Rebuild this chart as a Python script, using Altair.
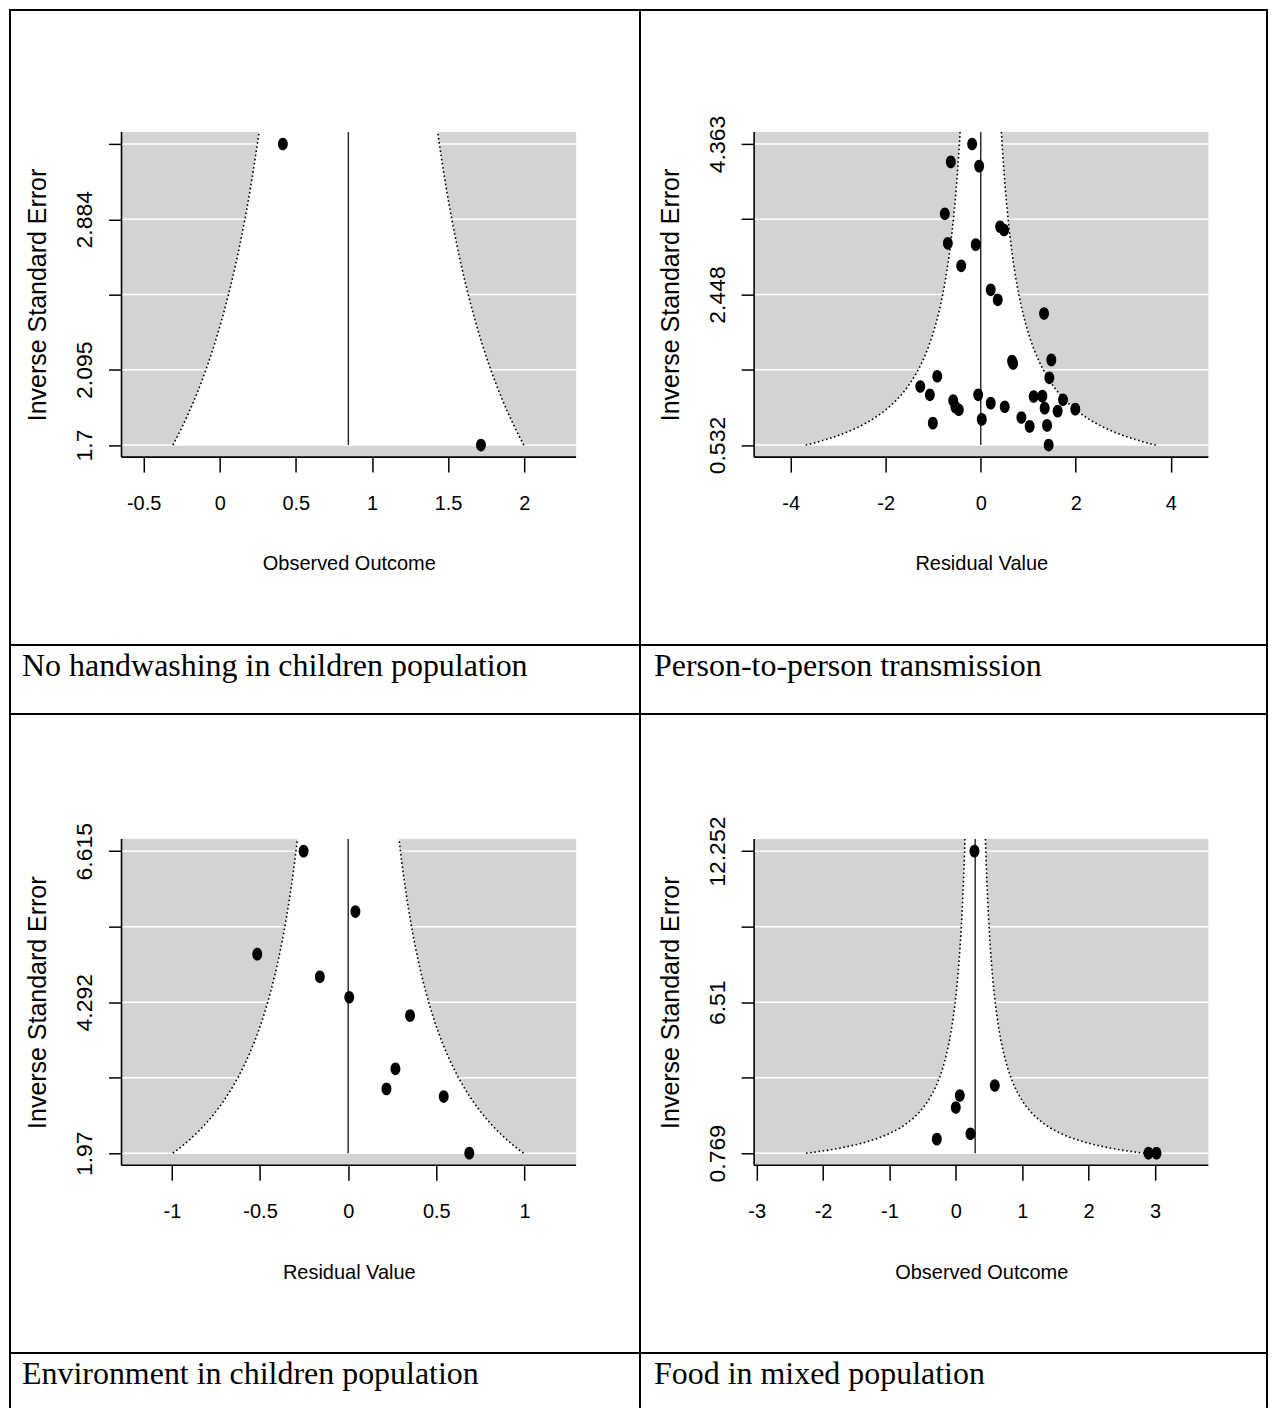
import altair as alt
import numpy as np
import pandas as pd

# ---------------- data ----------------
CAPTIONS = ["No handwashing in children population",
            "Person-to-person transmission",
            "Environment in children population",
            "Food in mixed population"]
X_TITLES = ["Observed Outcome", "Residual Value", "Residual Value", "Observed Outcome"]
Y_TITLE = "Inverse Standard Error"

P1_X = [0.415, 1.716]
P1_Y = [3.279, 1.700]

P2_X = [-0.181, -0.630, -0.034, -0.756, 0.407, 0.491, -0.693, -0.105, -0.412, 0.210,
        0.357, 1.332, 0.659, 0.680, 1.485, -0.916, 1.443, -1.273, -1.071, -0.055,
        -0.580, -0.532, -0.462, 0.210, 0.504, 1.113, 1.296, 1.731, 1.345, 1.618,
        1.989, -1.008, 0.021, 0.855, 1.029, 1.395, 1.429]
P2_Y = [4.363, 4.135, 4.080, 3.475, 3.310, 3.268, 3.099, 3.082, 2.812, 2.507,
        2.380, 2.206, 1.600, 1.570, 1.615, 1.407, 1.387, 1.277, 1.171, 1.171,
        1.099, 1.014, 0.981, 1.065, 1.019, 1.150, 1.154, 1.108, 1.001, 0.963,
        0.989, 0.811, 0.858, 0.883, 0.769, 0.782, 0.532]

P3_X = [-0.253, 0.041, -0.516, -0.161, 0.006, 0.351, 0.268, 0.217, 0.542, 0.687]
P3_Y = [6.615, 5.686, 5.031, 4.682, 4.369, 4.087, 3.267, 2.959, 2.841, 1.970]

P4_X = [0.281, 0.587, 0.060, 0.000, 0.221, -0.286, 2.902, 3.023]
P4_Y = [12.252, 3.343, 2.963, 2.507, 1.507, 1.301, 0.769, 0.769]

POINTS_X = [P1_X, P2_X, P3_X, P4_X]
POINTS_Y = [P1_Y, P2_Y, P3_Y, P4_Y]

CENTERS = [0.845, 0.0, 0.0, 0.292]

Y_TICKS = [[1.7, 2.095, 2.4895, 2.884, 3.279],
           [0.532, 1.490, 2.448, 3.405, 4.363],
           [1.97, 3.131, 4.292, 5.454, 6.615],
           [0.769, 3.640, 6.51, 9.381, 12.252]]
Y_LABELS = [["1.7", "2.095", "", "2.884", ""],
            ["0.532", "", "2.448", "", "4.363"],
            ["1.97", "", "4.292", "", "6.615"],
            ["0.769", "", "6.51", "", "12.252"]]
X_TICKS = [[-0.5, 0, 0.5, 1, 1.5, 2],
           [-4, -2, 0, 2, 4],
           [-1, -0.5, 0, 0.5, 1],
           [-3, -2, -1, 0, 1, 2, 3]]
X_LABELS = [["-0.5", "0", "0.5", "1", "1.5", "2"],
            ["-4", "-2", "0", "2", "4"],
            ["-1", "-0.5", "0", "0.5", "1"],
            ["-3", "-2", "-1", "0", "1", "2", "3"]]
X_USR = [[-0.645, 2.341], [-4.769, 4.790], [-1.286, 1.293], [-3.038, 3.805]]

# ---------------- layout / style ----------------
SANS = "Liberation Sans, Arial, sans-serif"
SERIF = "Liberation Serif, Times New Roman, serif"
ELLIPSE = "M0,-1A0.78,1,0,1,1,0,1A0.78,1,0,1,1,0,-1Z"
GRAY = "#d3d3d3"

# page px of table column / row lines (kept within the page's content width)
COL_X = [9, 640, 1268]
ROW_Y = [9, 645, 714, 1354, 1409]
GRAY_BOX = [(120.7, 576.0, 131.0, 456.7),
            (754.3, 1209.3, 131.0, 456.7),
            (120.7, 576.0, 839.3, 1166.0),
            (754.3, 1209.3, 839.3, 1166.0)]
CAPTION_X = [12, 14]


def label_expr(vals, labs):
    expr = "''"
    for v, s in zip(vals, labs):
        expr = f"abs(datum.value - ({v})) < 1e-6 ? '{s}' : ({expr})"
    return expr


def panel(i):
    col = i % 2
    row = 0 if i < 2 else 2
    cx0 = COL_X[col]
    W = COL_X[col + 1] - cx0
    cy0 = ROW_Y[row]
    H = ROW_Y[row + 1] - cy0
    gl, gr, gt, gb = GRAY_BOX[i]
    gl -= cx0; gr -= cx0; gt -= cy0; gb -= cy0
    ux0, ux1 = X_USR[i]
    yt = Y_TICKS[i]
    span = yt[-1] - yt[0]
    uy0, uy1 = yt[0] - 0.04 * span, yt[-1] + 0.04 * span
    kx = (gr - gl) / (ux1 - ux0)
    ky = (gb - gt) / (uy1 - uy0)
    dom_x = [ux0 - gl / kx, ux0 + (W - gl) / kx]
    dom_y = [uy0 - (H - gb) / ky, uy1 + gt / ky]
    xs = alt.Scale(domain=dom_x, nice=False, zero=False)
    ys = alt.Scale(domain=dom_y, nice=False, zero=False)

    xa = alt.Axis(values=X_TICKS[i], labelExpr=label_expr(X_TICKS[i], X_LABELS[i]),
                  offset=gb - H, domain=False, grid=False, ticks=True,
                  tickSize=15, tickWidth=1.5, tickColor="black",
                  labelFont=SANS, labelFontSize=20, labelColor="black",
                  labelBaseline="middle", labelAlign="center", labelPadding=31,
                  labelOverlap=False, labelFlush=False,
                  title=X_TITLES[i], titleFont=SANS, titleFontSize=20,
                  titleFontWeight="normal", titleColor="black",
                  titleX=(gl + gr) / 2, titleY=107, titleBaseline="middle",
                  titleAlign="center")
    ya = alt.Axis(values=yt, labelExpr=label_expr(yt, Y_LABELS[i]),
                  offset=-gl, domain=False, grid=False, ticks=True,
                  tickSize=13, tickWidth=1.5, tickColor="black",
                  labelFont=SANS, labelFontSize=23, labelColor="black",
                  labelAngle=270, labelAlign="center", labelBaseline="middle",
                  labelPadding=24, labelOverlap=False, labelFlush=False,
                  title=Y_TITLE, titleFont=SANS, titleFontSize=25,
                  titleFontWeight="normal", titleColor="black", titleAngle=270,
                  titleX=-84, titleY=(gt + gb) / 2, titleBaseline="middle",
                  titleAlign="center")

    def X(f):
        return alt.X(f + ":Q", scale=xs, axis=xa)

    def Y(f):
        return alt.Y(f + ":Q", scale=ys, axis=ya)

    c = CENTERS[i]
    bg = alt.Chart(pd.DataFrame({"x": [ux0], "x2": [ux1], "y": [uy0], "y2": [uy1]})).mark_rect(
        fill=GRAY).encode(x=X("x"), x2="x2", y=Y("y"), y2="y2")
    grid = alt.Chart(pd.DataFrame({"y": yt, "x": [ux0] * len(yt), "x2": [ux1] * len(yt)})).mark_rule(
        color="white", strokeWidth=1.5).encode(x=X("x"), x2="x2", y=Y("y"))

    fy = np.linspace(yt[0], uy1, 300)
    fun = pd.DataFrame({"y": fy, "x": c - 1.96 / fy, "x2": c + 1.96 / fy})
    area = alt.Chart(fun).mark_area(orient="horizontal", color="white", opacity=1).encode(
        y=Y("y"), x=X("x"), x2="x2")
    lines_df = pd.concat([
        pd.DataFrame({"y": fy, "x": c - 1.96 / fy, "side": "l"}),
        pd.DataFrame({"y": fy, "x": c + 1.96 / fy, "side": "r"})])
    lines = alt.Chart(lines_df).mark_line(color="black", strokeWidth=1.6, strokeDash=[1.6, 2.6]).encode(
        x=X("x"), y=Y("y"), detail="side:N", order="y:Q")
    vline = alt.Chart(pd.DataFrame({"x": [c], "y": [yt[0]], "y2": [uy1]})).mark_rule(
        color="#222", strokeWidth=1.4).encode(x=X("x"), y=Y("y"), y2="y2")
    pts = alt.Chart(pd.DataFrame({"x": POINTS_X[i], "y": POINTS_Y[i]})).mark_point(
        shape=ELLIPSE, filled=True, size=161, color="black", opacity=1).encode(x=X("x"), y=Y("y"))
    box = alt.Chart(pd.DataFrame({"x": [ux0, ux0], "x2": [ux0, ux1],
                                  "y": [uy0, uy0], "y2": [uy1, uy0]})).mark_rule(
        color="black", strokeWidth=1.6).encode(x=X("x"), x2="x2", y=Y("y"), y2="y2")

    return alt.layer(bg, grid, area, lines, vline, pts, box).properties(width=W, height=H)


def caption(i):
    col = i % 2
    row = 1 if i < 2 else 3
    W = COL_X[col + 1] - COL_X[col]
    H = ROW_Y[row + 1] - ROW_Y[row]
    df = pd.DataFrame({"t": [CAPTIONS[i]]})
    txt = alt.Chart(df).mark_text(
        align="left", baseline="alphabetic", font=SERIF, fontSize=32, color="black").encode(
        text="t:N", x=alt.value(CAPTION_X[col]), y=alt.value(31))
    if row == 1:
        return txt.properties(width=W, height=H)
    # last row is cut by the page edge: only its side borders are drawn
    edges = [alt.Chart(df).mark_rule(color="black", strokeWidth=2).encode(
        x=alt.value(ex), y=alt.value(0), y2=alt.value(H)) for ex in ([0, W] if col == 0 else [W])]
    return alt.layer(txt, *edges).properties(
        width=W, height=H, view=alt.ViewBackground(stroke="transparent"))


chart = alt.concat(
    panel(0), panel(1), caption(0), caption(1),
    panel(2), panel(3), caption(2), caption(3),
    columns=2
).properties(
    spacing=0, bounds="flush", align="each", padding=0,
    background="white"
).configure_view(stroke="black", strokeWidth=2)

chart.save("out.html", embed_options={"renderer": "svg", "actions": False})
